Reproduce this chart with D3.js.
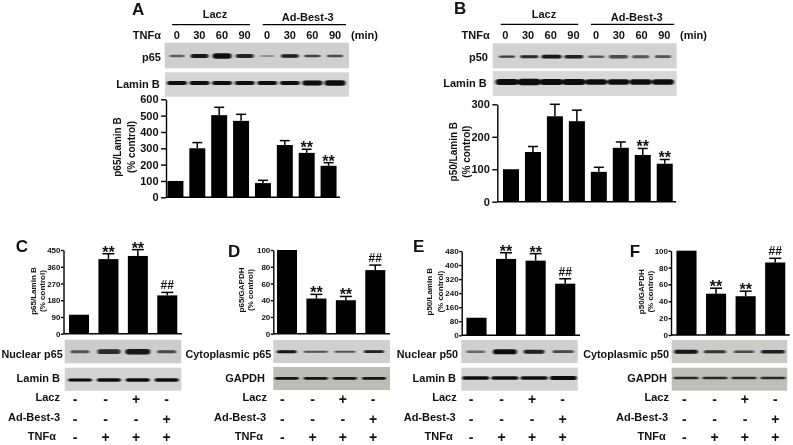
<!DOCTYPE html>
<html lang="en">
<head>
<meta charset="utf-8">
<script src="https://cdn.jsdelivr.net/npm/d3@7"></script>
<style>
  html, body { margin: 0; padding: 0; background: #fff; }
  svg { display: block; font-family: "Liberation Sans", Arial, sans-serif; font-weight: bold; fill: #111; filter: blur(0.35px); }
  .axis path, .axis line { stroke: #000; stroke-width: 1.4px; }
  .axis text { fill: #111; font-weight: bold; }
</style>
</head>
<body>
<svg width="793" height="445"></svg>
<script>
// values
const timeLabels = ["0", "30", "60", "90", "0", "30", "60", "90"];
const pA = [100, 300, 503, 468, 87, 320, 272, 193];
const pAErr = [null, 335, 551, 508, 104, 347, 294, 212];
const pAMarks = ["", "", "", "", "", "", "**", "**"];
const pB = [100, 153, 263, 248, 92, 166, 144, 117];
const pBErr = [null, 170, 300, 282, 106, 184, 164, 130];
const pBMarks = ["", "", "", "", "", "", "**", "**"];
const pC = [102, 401, 418, 206];
const pCErr = [null, 430, 452, 222];
const pD = [100, 42, 40, 76];
const pDErr = [null, 47, 44.5, 82];
const pE = [100, 435, 425, 294];
const pEErr = [null, 470, 465, 322];
const pF = [100, 49, 46, 86];
const pFErr = [null, 55.5, 52, 91];
const marks4 = ["", "**", "**", "##"];

const ticksA = [0, 100, 200, 300, 400, 500, 600];
const ticksB = [0, 100, 200, 300];
const ticksC = [0, 90, 180, 270, 360, 450];
const ticksD = [0, 20, 40, 60, 80, 100];
const ticksE = [0, 80, 160, 240, 320, 400, 480];

const laczRow = ["-", "-", "+", "-"];
const adRow = ["-", "-", "-", "+"];
const tnfRow = ["-", "+", "+", "+"];

// band strength of the blots: [width, thickness, darkness]
const blotA1 = [[15, 1.6, .55], [18, 2.4, .95], [19, 3.2, 1], [18, 2.4, .9], [14, 1, .4], [18, 2, .9], [16, 1.6, .75], [16, 1.5, .7]];
const blotA2 = [[20, 2.4, 1], [20, 2.4, 1], [20, 2.4, 1], [20, 2.4, 1], [20, 2.4, 1], [20, 2.4, 1], [20, 2.8, 1], [21, 3.2, 1]];
const blotB1 = [[16, 1.3, .75], [18, 1.7, .85], [20, 2.2, .95], [19, 2, .9], [16, 1.5, .6], [19, 2, .7], [17, 1.8, .65], [16, 1.6, .65]];
const blotB2 = [[23, 3.6, 1], [23, 3.8, 1], [23, 3.4, 1], [23, 3.4, 1], [22, 3.2, 1], [22, 3.2, 1], [22, 3.2, 1], [22, 3.2, 1]];
const blotC1 = [[19, 1.8, .6], [23, 2.8, .85], [25, 3.2, .95], [19, 1.8, .7]];
const blotC2 = [[24, 1.8, 1], [24, 2, 1], [24, 2, 1], [24, 2, 1]];
const blotD1 = [[20, 1.8, .95], [24, 1.2, .65], [21, 1.2, .6], [20, 1.6, .9]];
const blotD2 = [[24, 1.6, .95], [24, 1.6, .95], [24, 1.6, .95], [24, 1.6, .95]];
const blotE1 = [[19, 1.4, .5], [24, 3, 1], [21, 2.4, .9], [21, 1.6, .7]];
const blotE2 = [[27, 2, 1], [27, 2.2, 1], [27, 2.2, 1], [27, 2.4, 1]];
const blotF1 = [[24, 2.4, .95], [22, 1.8, .8], [20, 1.5, .7], [24, 2, .9]];
const blotF2 = [[25, 1.5, .85], [25, 1.5, .85], [25, 1.5, .85], [25, 1.5, .85]];

const svg = d3.select("svg");
const defs = svg.append("defs");
defs.append("filter").attr("id", "smear")
    .attr("x", "-30%").attr("y", "-100%").attr("width", "160%").attr("height", "300%")
  .append("feGaussianBlur").attr("stdDeviation", "1 0.7");

function label(txt, x, y, size, anchor) {
  return svg.append("text").attr("x", x).attr("y", y)
    .attr("font-size", size).attr("text-anchor", anchor || "end").text(txt);
}

function barChart(o) {
  const n = o.values.length;
  const x = d3.scaleBand().domain(d3.range(n)).range(o.xr).paddingInner(o.pad).paddingOuter(o.pad / 2);
  const y = d3.scaleLinear().domain(o.dom).range([o.y0, o.y1]);
  const g = svg.append("g");

  // error whiskers first, bars sit on top
  const err = g.selectAll(".err").data(d3.range(n).filter(i => o.err[i] != null)).enter().append("g");
  err.append("line")
    .attr("x1", i => x(i) + x.bandwidth() / 2).attr("x2", i => x(i) + x.bandwidth() / 2)
    .attr("y1", i => y(o.values[i])).attr("y2", i => y(o.err[i]))
    .attr("stroke", "#000").attr("stroke-width", 1.5);
  err.append("line")
    .attr("x1", i => x(i) + x.bandwidth() / 2 - o.cap).attr("x2", i => x(i) + x.bandwidth() / 2 + o.cap)
    .attr("y1", i => y(o.err[i])).attr("y2", i => y(o.err[i]))
    .attr("stroke", "#000").attr("stroke-width", 1.5);

  g.selectAll(".bar").data(o.values).enter().append("rect")
    .attr("x", (d, i) => x(i)).attr("width", x.bandwidth())
    .attr("y", d => y(d)).attr("height", d => y(0) - y(d))
    .attr("fill", "#000");

  g.selectAll(".mark").data(o.marks).enter().append("text")
    .attr("x", (d, i) => x(i) + x.bandwidth() / 2)
    .attr("y", (d, i) => d === "##" ? y(o.err[i]) - 3 : y(o.err[i] == null ? 0 : o.err[i]) + 4)
    .attr("text-anchor", "middle")
    .attr("font-size", d => d === "##" ? 12 : 16)
    .text(d => d);

  const axis = g.append("g").attr("class", "axis")
    .attr("transform", `translate(${o.xa},0)`)
    .call(d3.axisLeft(y).tickValues(o.ticks).tickSize(o.tick).tickSizeOuter(0).tickPadding(o.tp));
  axis.selectAll("text").attr("font-size", o.font);
  g.append("line").attr("x1", o.xa).attr("x2", o.xe).attr("y1", o.y0).attr("y2", o.y0)
    .attr("stroke", "#000").attr("stroke-width", 1.5);

  // two line rotated title
  o.title.forEach((t, i) => {
    svg.append("text").attr("transform", `translate(${o.tx[i]},${o.ty}) rotate(-90)`)
      .attr("text-anchor", "middle").attr("dy", "0.35em").attr("font-size", o.tf).text(t);
  });
}

function blot(x0, x1, y0, y1, bg, yb, cr, bands) {
  svg.append("rect").attr("x", x0).attr("y", y0).attr("width", x1 - x0).attr("height", y1 - y0).attr("fill", bg);
  const cx = d3.scalePoint().domain(d3.range(bands.length)).range(cr);
  svg.append("g").attr("filter", "url(#smear)")
    .selectAll("rect").data(bands).enter().append("rect")
    .attr("x", (d, i) => cx(i) - d[0] / 2).attr("y", d => yb - d[1] * .85)
    .attr("width", d => d[0]).attr("height", d => d[1] * 1.7)
    .attr("rx", d => d[1])
    .attr("fill", "#0a0a0a").attr("opacity", d => d[2]);
}

function signRow(row, y, xr) {
  const sx = d3.scalePoint().domain(d3.range(row.length)).range(xr);
  svg.append("g").selectAll("text").data(row).enter().append("text")
    .attr("x", (d, i) => sx(i)).attr("y", y).attr("text-anchor", "middle")
    .attr("font-size", 14).text(d => d);
}

function topRow(y, xr) {
  const sx = d3.scalePoint().domain(d3.range(timeLabels.length)).range(xr);
  svg.append("g").selectAll("text").data(timeLabels).enter().append("text")
    .attr("x", (d, i) => sx(i)).attr("y", y).attr("text-anchor", "middle")
    .attr("font-size", 11).text(d => d);
}

function rule(x0, x1, y) {
  svg.append("line").attr("x1", x0).attr("x2", x1).attr("y1", y).attr("y2", y)
    .attr("stroke", "#000").attr("stroke-width", 1.2);
}

// panel A
label("A", 132, 15, 17, "start");
label("Lacz", 215, 18, 11, "middle");
label("Ad-Best-3", 307.7, 21, 11, "middle");
rule(172, 250, 24.7);
rule(262.7, 346, 24.7);
label("TNF\u03b1", 161, 39, 11);
topRow(39, [176.7, 335]);
label("(min)", 351, 39, 11, "start");
blot(164.7, 349, 42.7, 68.3, "#cfcfcf", 56, [177, 335], blotA1);
label("p65", 161, 61, 11);
blot(165, 349, 72.3, 96.7, "#d4d4d4", 83, [177, 335], blotA2);
label("Lamin B", 159.7, 88, 11);
barChart({ values: pA, err: pAErr, marks: pAMarks, xr: [164.5, 339.5], pad: .27, dom: [0, 600], y0: 197.3, y1: 99.3,
  ticks: ticksA, tick: 5, tp: 2.5, font: 11, cap: 5, xa: 166, xe: 340, title: ["p65/Lamin B", "(% control)"], tx: [117.7, 131.7], ty: 147, tf: 10 });

// panel B
label("B", 454, 14, 17, "start");
label("Lacz", 544, 18, 11, "middle");
label("Ad-Best-3", 636.7, 21, 11, "middle");
rule(500.7, 578.3, 24.3);
rule(591, 674.3, 24.3);
label("TNF\u03b1", 489.7, 39, 11);
topRow(39, [505.3, 664.3]);
label("(min)", 680, 39, 11, "start");
blot(492.7, 676.7, 43.3, 68.3, "#d2d2d2", 56.7, [507, 663], blotB1);
label("p50", 488, 61, 11);
blot(492.7, 676.7, 71, 96, "#d8d8d8", 82, [507, 663], blotB2);
label("Lamin B", 486.7, 87, 11);
barChart({ values: pB, err: pBErr, marks: pBMarks, xr: [500, 675.7], pad: .27, dom: [0, 300], y0: 201.7, y1: 104.3,
  ticks: ticksB, tick: 5, tp: 2.5, font: 11, cap: 5, xa: 497.3, xe: 676, title: ["p50/Lamin B", "(% control)"], tx: [453.3, 466.7], ty: 151.7, tf: 10 });

// panel C
label("C", 15.7, 252, 17, "start");
barChart({ values: pC, err: pCErr, marks: marks4, xr: [64.3, 182], pad: .32, dom: [0, 450], y0: 333.7, y1: 250,
  ticks: ticksC, tick: 2.5, tp: 0.5, font: 8, cap: 6, xa: 63.5, xe: 182, title: ["p65/Lamin B", "(% control)"], tx: [33, 42], ty: 291, tf: 8 });
blot(64.7, 181.3, 339.7, 363.3, "#cccccc", 351.7, [80, 166.7], blotC1);
blot(64.7, 181.3, 367.7, 390.7, "#d2d2d2", 380, [80, 166.7], blotC2);
label("Nuclear p65", 62.7, 358, 10.8);
label("Lamin B", 60, 382, 11);
label("Lacz", 60, 401, 11);
label("Ad-Best-3", 60, 421, 11);
label("TNF\u03b1", 56, 440, 11);
signRow(laczRow, 403.5, [75, 166.7]);
signRow(adRow, 423.5, [75, 166.7]);
signRow(tnfRow, 441.5, [75, 166.7]);

// panel D
label("D", 228, 257, 17, "start");
barChart({ values: pD, err: pDErr, marks: marks4, xr: [272.3, 390], pad: .32, dom: [0, 100], y0: 333.7, y1: 250,
  ticks: ticksD, tick: 2.5, tp: 0.5, font: 8, cap: 6, xa: 273.3, xe: 390, title: ["p65/GAPDH", "(% control)"], tx: [241, 250], ty: 290, tf: 8 });
blot(273.3, 390, 340, 363, "#d0d0d0", 351.7, [286.7, 374], blotD1);
blot(273.3, 390, 367, 390, "#bdbdb8", 378.3, [286.7, 374], blotD2);
label("Cytoplasmic p65", 271.3, 358, 10.8);
label("GAPDH", 265, 382, 11);
label("Lacz", 267, 401, 11);
label("Ad-Best-3", 266, 421, 11);
label("TNF\u03b1", 263, 440, 11);
signRow(laczRow, 403.5, [282.3, 373]);
signRow(adRow, 423.5, [282.3, 373]);
signRow(tnfRow, 441.5, [282.3, 373]);

// panel E
label("E", 413, 251.7, 17, "start");
barChart({ values: pE, err: pEErr, marks: marks4, xr: [461.7, 580], pad: .32, dom: [0, 480], y0: 335.3, y1: 251,
  ticks: ticksE, tick: 2.5, tp: 0.5, font: 8, cap: 6, xa: 461.7, xe: 580, title: ["p50/Lamin B", "(% control)"], tx: [429.3, 440], ty: 291.7, tf: 8 });
blot(461.3, 577.7, 340, 363, "#cfcfcf", 351.7, [475.7, 563.3], blotE1);
blot(461.3, 577.7, 367.7, 390.7, "#d2d2d2", 378, [475.7, 563.3], blotE2);
label("Nuclear p50", 458, 358, 10.8);
label("Lamin B", 456, 382, 11);
label("Lacz", 456.7, 401, 11);
label("Ad-Best-3", 455.7, 421, 11);
label("TNF\u03b1", 452.7, 440, 11);
signRow(laczRow, 403.5, [471, 562.7]);
signRow(adRow, 423.5, [471, 562.7]);
signRow(tnfRow, 441.5, [471, 562.7]);

// panel F
label("F", 629.7, 256.7, 17, "start");
barChart({ values: pF, err: pFErr, marks: marks4, xr: [671.7, 790], pad: .32, dom: [0, 100], y0: 335, y1: 250.7,
  ticks: ticksD, tick: 2.5, tp: 0.5, font: 8, cap: 6, xa: 671, xe: 789.7, title: ["p50/GAPDH", "(% control)"], tx: [640.7, 650.3], ty: 291.7, tf: 8 });
blot(671.7, 787.3, 340, 363, "#cbcbc8", 351.7, [686, 773], blotF1);
blot(671.7, 787.3, 367.7, 390.7, "#bfbfba", 378, [686, 773], blotF2);
label("Cytoplasmic p50", 669, 358, 10.8);
label("GAPDH", 667, 382, 11);
label("Lacz", 669, 401, 11);
label("Ad-Best-3", 668, 421, 11);
label("TNF\u03b1", 665.7, 440, 11);
signRow(laczRow, 403.5, [684.3, 775.3]);
signRow(adRow, 423.5, [684.3, 775.3]);
signRow(tnfRow, 441.5, [684.3, 775.3]);
</script>
</body>
</html>
